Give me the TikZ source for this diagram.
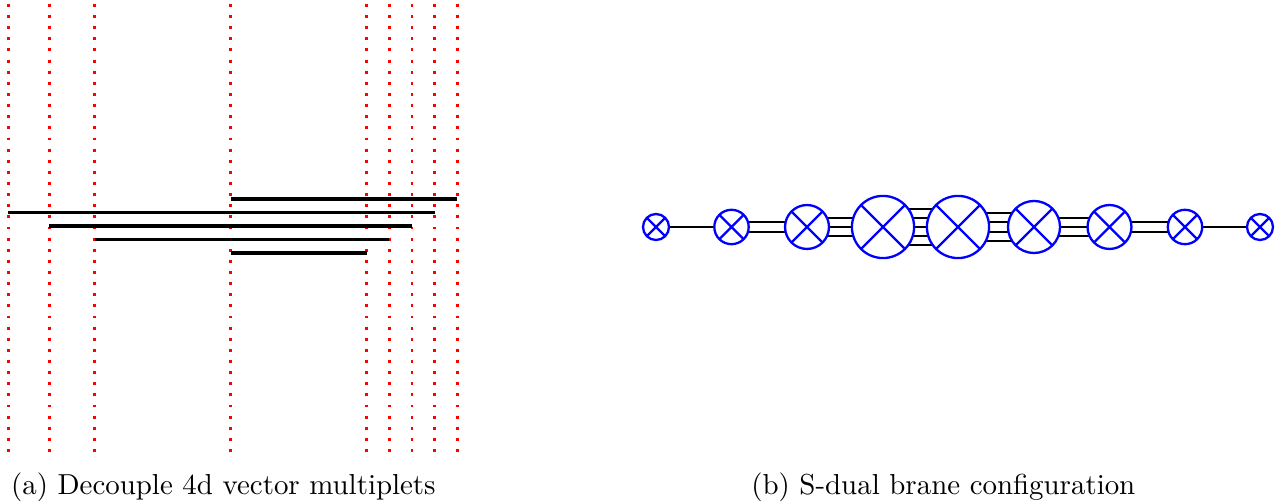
\documentclass[tikz,border=0pt]{standalone}
\usepackage{amsmath}
\usepackage{amssymb}
\usepackage{tikz}
\usetikzlibrary{backgrounds}

\tikzset{
  ns5/.style={draw=blue,shape=circle,fill=white,line width=0.8pt,inner sep=0pt,minimum size=#1,
    path picture={\draw[blue,line width=0.8pt]
      (path picture bounding box.north west) -- (path picture bounding box.south east)
      (path picture bounding box.north east) -- (path picture bounding box.south west);}},
  d5/.style={red,line width=1pt,dash pattern=on 1pt off 2.85pt},
  d3/.style={black,line width=1.2pt},
  d3b/.style={black,line width=0.7pt}
}

\begin{document}
\begin{tikzpicture}[x=0.346pt,y=-0.346pt]
\useasboundingbox (0,0) rectangle (1287,503);

\foreach \x in {8.3,49.3,94.7,230.7,366.7,389.3,412,434.7,457.3}
  \draw[d5] (\x,4) -- (\x,453);

\draw[d3] (230.7,199)   -- (457.3,199);
\draw[d3] (8.3,212.3)   -- (434.7,212.3);
\draw[d3] (49.3,226)    -- (412,226);
\draw[d3] (94.7,239.7)  -- (389.3,239.7);
\draw[d3] (230.7,253)   -- (366.7,253);

\draw (656,227)  node (n1) [ns5=9pt] {};
\draw (731.5,227) node (n2) [ns5=11.9pt] {};
\draw (807,227)  node (n3) [ns5=15.2pt] {};
\draw (883,227)  node (n4) [ns5=21.5pt] {};
\draw (958,227)  node (n5) [ns5=21.5pt] {};
\draw (1034,227) node (n6) [ns5=18pt] {};
\draw (1109.5,227) node (n7) [ns5=15.2pt] {};
\draw (1185,227) node (n8) [ns5=11.9pt] {};
\draw (1260,227) node (n9) [ns5=9pt] {};

\begin{pgfonlayer}{background}
\foreach \a/\b/\k in {n1/n2/1,n2/n3/2,n3/n4/3,n4/n5/5,n5/n6/4,n6/n7/3,n7/n8/2,n8/n9/1}
  \foreach \j in {1,...,\k}
    \draw[d3b] ([yshift={(\j-(\k+1)/2)*3.18pt}]\a.center) -- ([yshift={(\j-(\k+1)/2)*3.18pt}]\b.center);
\end{pgfonlayer}

\node (capa) [anchor=base west,inner sep=0pt] at (10.5,495) {(a) Decouple 4d vector multiplets};
\node (capb) [anchor=base west,inner sep=0pt] at (750.7,495) {(b) S-dual brane configuration};

\end{tikzpicture}
\end{document}
